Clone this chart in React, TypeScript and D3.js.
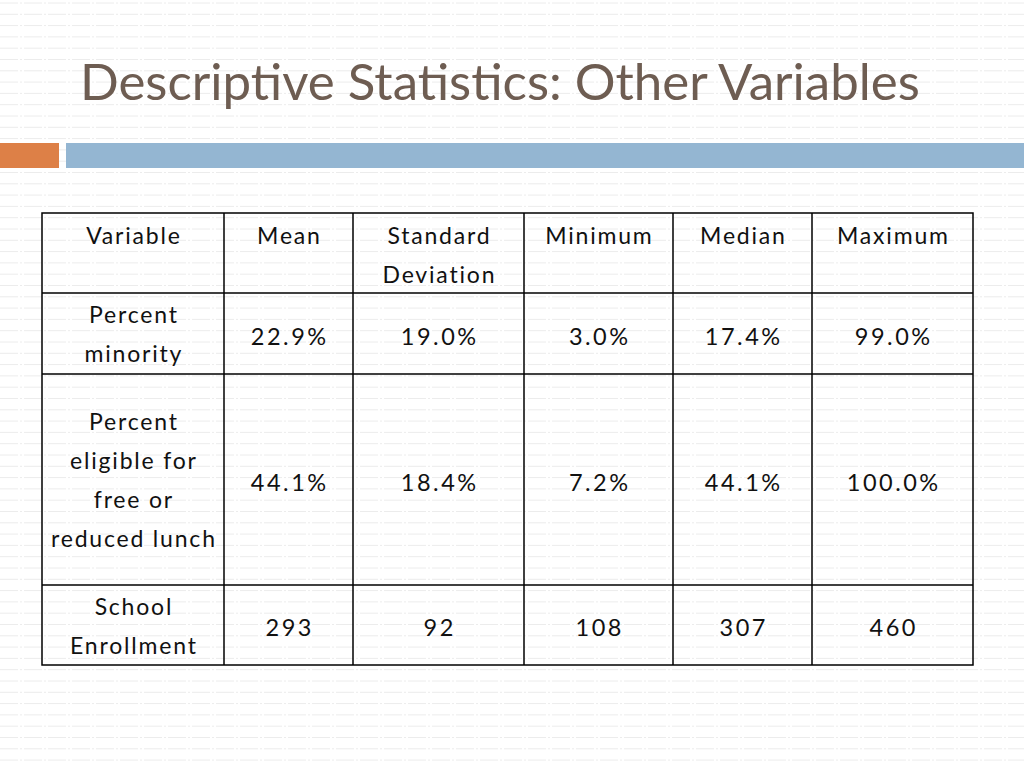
import React from "react";
import * as d3 from "d3";

const title = "Descriptive Statistics: Other Variables";
const headers = [["Variable"], ["Mean"], ["Standard", "Deviation"], ["Minimum"], ["Median"], ["Maximum"]];
const variables = [["Percent", "minority"], ["Percent", "eligible for", "free or", "reduced lunch"], ["School", "Enrollment"]];
const means = ["22.9%", "44.1%", "293"];
const stdDevs = ["19.0%", "18.4%", "92"];
const minimums = ["3.0%", "7.2%", "108"];
const medians = ["17.4%", "44.1%", "307"];
const maximums = ["99.0%", "100.0%", "460"];

const W = 1024, H = 768;
const colEdges = [42, 224, 353, 524, 673, 812, 973];
const rowEdges = [213, 293, 374, 585, 665];
const lineH = 39;
const FONT = "Lato, 'Noto Sans', sans-serif";
const LS = 1.8;
const LSV = 2.5;

export default function App() {
  const valueCols = [means, stdDevs, minimums, medians, maximums];
  const bgLines = d3.range(3, H, 11.3);
  const cells: JSX.Element[] = [];
  headers.forEach((h, ci) => {
    const cx = (colEdges[ci] + colEdges[ci + 1]) / 2 + LS / 2;
    h.forEach((t, li) => {
      cells.push(
        <text key={`h${ci}-${li}`} x={cx} y={235 + li * lineH} textAnchor="middle" dominantBaseline="central" fontSize={23} letterSpacing={LS} fill="#111">{t}</text>
      );
    });
  });
  variables.forEach((lines, ri) => {
    const y0 = rowEdges[ri + 1], y1 = rowEdges[ri + 2];
    const cy = (y0 + y1) / 2;
    const cx = (colEdges[0] + colEdges[1]) / 2 + LS / 2;
    lines.forEach((t, li) => {
      const y = cy + (li - (lines.length - 1) / 2) * lineH;
      cells.push(<text key={`v${ri}-${li}`} x={cx} y={y} textAnchor="middle" dominantBaseline="central" fontSize={23} letterSpacing={LS} fill="#111">{t}</text>);
    });
    valueCols.forEach((col, ci) => {
      const x = (colEdges[ci + 1] + colEdges[ci + 2]) / 2 + LSV / 2;
      cells.push(<text key={`d${ri}-${ci}`} x={x} y={cy + 2} textAnchor="middle" dominantBaseline="central" fontSize={23.5} letterSpacing={LSV} fill="#111">{col[ri]}</text>);
    });
  });
  return (
    <svg width={W} height={H} style={{ position: "absolute", left: 0, top: 0, fontFamily: FONT }}>
      <rect width={W} height={H} fill="#fff" />
      {bgLines.map((y, i) => (
        <line key={i} x1={0} x2={W} y1={y} y2={y} stroke="#ececec" strokeWidth={1} strokeDasharray="18 2 2 2" />
      ))}
      <text x={80} y={100} fontSize={51} fill="#6e5d52" fontFamily={FONT}>{title}</text>
      <rect x={0} y={143} width={59} height={25} fill="#dd8047" />
      <rect x={66} y={143} width={W - 66} height={25} fill="#94b6d2" />
      <rect x={colEdges[0]} y={rowEdges[0]} width={colEdges[6] - colEdges[0]} height={rowEdges[4] - rowEdges[0]} fill="none" stroke="#000" strokeWidth={1.5} />
      {colEdges.slice(1, -1).map((x, i) => (
        <line key={`c${i}`} x1={x} x2={x} y1={rowEdges[0]} y2={rowEdges[4]} stroke="#000" strokeWidth={1.5} />
      ))}
      {rowEdges.slice(1, -1).map((y, i) => (
        <line key={`r${i}`} x1={colEdges[0]} x2={colEdges[6]} y1={y} y2={y} stroke="#000" strokeWidth={1.5} />
      ))}
      {cells}
    </svg>
  );
}
